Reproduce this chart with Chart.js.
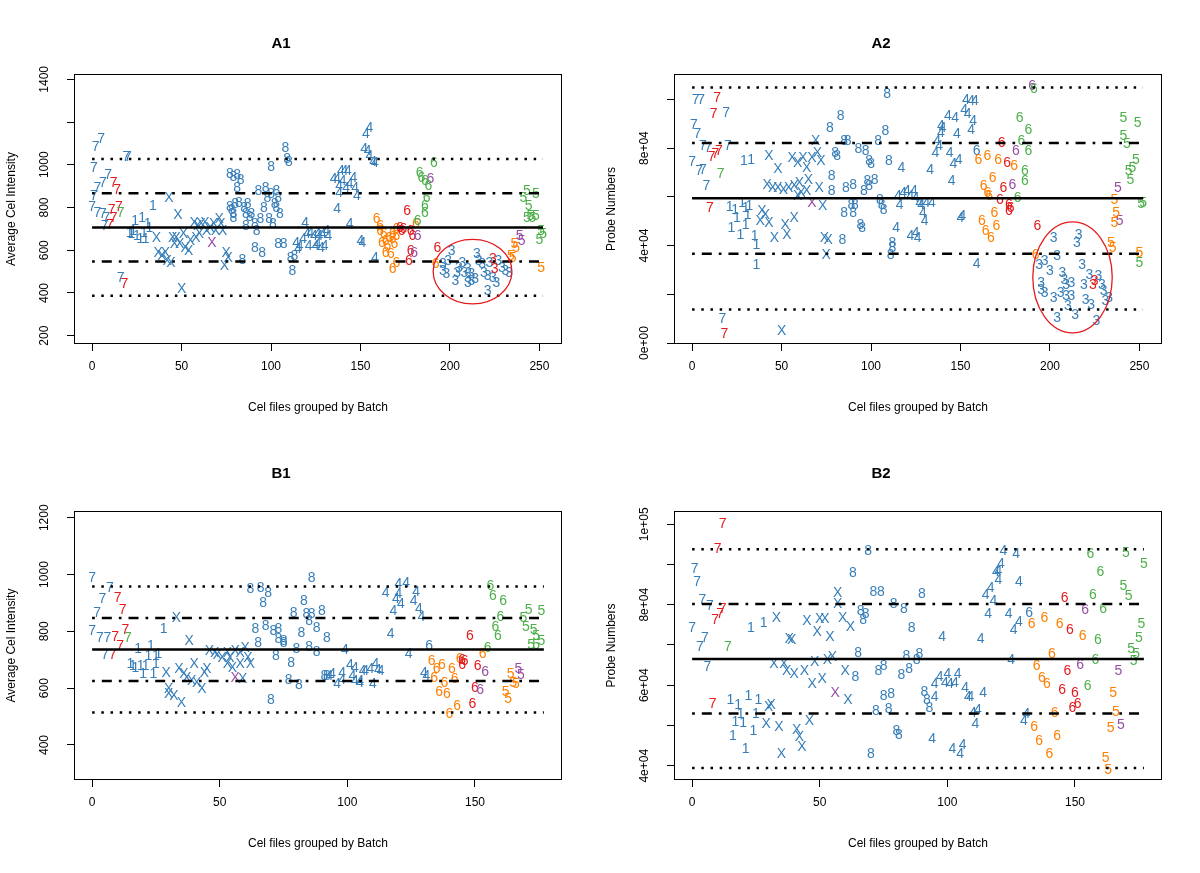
<!DOCTYPE html>
<html><head><meta charset="utf-8">
<script src="https://cdn.jsdelivr.net/npm/chart.js@4/dist/chart.umd.min.js"></script>
<style>
html,body{margin:0;padding:0;background:#fff;}
#wrap{position:relative;width:1200px;height:873px;background:#fff;}
.panel{position:absolute;}
canvas{display:block;}
</style></head><body><div id="wrap">
<div class="panel" style="left:0;top:0;width:600px;height:436px"><canvas id="cA1" width="600" height="436"></canvas></div>
<div class="panel" style="left:600px;top:0;width:600px;height:436px"><canvas id="cA2" width="600" height="436"></canvas></div>
<div class="panel" style="left:0;top:436px;width:600px;height:437px"><canvas id="cB1" width="600" height="437"></canvas></div>
<div class="panel" style="left:600px;top:436px;width:600px;height:437px"><canvas id="cB2" width="600" height="437"></canvas></div>
</div>
<script>
// ---------------- DATA ----------------
// groups: [glyph, colourKey, [[fileIndex, value], ...]]
const a1Groups = [
 ['7','b',[[2,1088],[5,1127],[1,991],[19,1041],[20,1041],[9,957],[6,921],[3,894],[1,858],[0,807],[3,780],[6,773],[8,757],[7,718],[16,473]]],
 ['7','r',[[12,921],[14,887],[11,791],[15,808],[12,757],[10,723],[18,448]]],
 ['7','g',[[16,780]]],
 ['1','b',[[21,687],[22,679],[23,694],[24,741],[25,671],[27,656],[28,757],[29,687],[30,656],[31,726],[32,710],[34,812]]],
 ['X','b',[[36,663],[37,593],[39,578],[41,593],[42,554],[43,848],[44,546],[45,663],[46,632],[48,770],[47,663],[49,632],[50,422],[51,679],[52,617],[54,601],[55,648],[57,734],[58,663],[59,718],[60,679],[61,726],[63,734],[64,695],[66,710],[68,726],[69,695],[71,749],[72,726],[73,695],[74,531],[75,593],[76,570]]],
 ['X','p',[[67,640]]],
 ['8','b',[[77,960],[79,948],[81,957],[83,932],[81,898],[77,807],[78,791],[80,822],[79,757],[82,827],[85,804],[87,820],[86,773],[89,773],[88,760],[86,718],[92,695],[91,726],[94,749],[96,804],[97,898],[93,882],[98,851],[100,867],[103,882],[104,851],[102,820],[103,804],[105,773],[99,749],[101,726],[100,992],[108,1085],[109,1030],[110,1019],[91,617],[95,593],[104,632],[107,632],[111,570],[113,578],[112,509],[84,558],[79,773]]],
 ['4','b',[[119,733],[120,679],[122,687],[124,671],[126,679],[127,671],[129,679],[131,695],[132,671],[114,640],[116,625],[118,656],[121,625],[125,625],[128,617],[130,625],[115,609],[126,632],[135,936],[137,936],[139,975],[141,975],[143,975],[140,929],[138,905],[142,898],[144,913],[146,945],[147,898],[148,859],[138,874],[137,796],[144,726],[150,648],[151,637],[158,570],[155,1178],[153,1147],[152,1077],[154,1069],[155,1045],[157,1019],[158,1014]]],
 ['6','o',[[159,751],[161,697],[163,679],[164,648],[162,640],[166,663],[168,679],[168,656],[169,632],[165,625],[164,593],[167,586],[168,515],[170,546],[161,718],[170,705],[170,670],[181,726],[192,539]]],
 ['6','r',[[172,711],[173,697],[174,703],[176,788],[178,695],[179,671],[177,554],[178,601],[193,617]]],
 ['6','p',[[182,671],[180,593],[189,936]]],
 ['6','g',[[182,742],[183,968],[184,945],[186,929],[188,905],[187,851],[186,812],[186,781],[191,1014]]],
 ['3','b',[[201,601],[199,554],[196,539],[196,508],[198,492],[203,461],[205,523],[207,546],[208,500],[210,477],[210,515],[212,492],[214,469],[210,453],[215,586],[216,554],[218,539],[219,500],[222,546],[221,485],[224,477],[227,554],[229,523],[231,508],[233,500],[226,453],[221,414],[204,500],[212,461]]],
 ['3','r',[[224,562],[225,515]]],
 ['5','o',[[236,632],[234,578],[235,570],[237,617],[251,523]]],
 ['5','p',[[239,671],[240,648]]],
 ['5','g',[[243,882],[248,867],[241,851],[244,812],[245,765],[248,765],[243,757],[246,757],[251,695],[252,679],[250,652]]]
];
const a2Groups = [
 ['7','b',[[2,100000],[5,100300],[19,94900],[1,90000],[3,86200],[6,81200],[9,80500],[20,81200],[0,74700],[4,70900],[6,71600],[8,64700],[17,10400]]],
 ['7','r',[[14,100800],[12,94200],[11,76700],[13,78000],[15,79400],[10,55900],[18,4200]]],
 ['7','g',[[16,69800]]],
 ['1','b',[[29,75300],[33,75700],[21,56100],[24,55200],[25,51700],[22,47600],[27,44900],[28,57900],[30,55900],[31,53100],[30,49000],[35,44200],[36,40800],[36,32600],[32,56500]]],
 ['X','b',[[43,77100],[48,72000],[42,65400],[45,64100],[48,64100],[51,63400],[54,64100],[57,64700],[60,66100],[65,67500],[56,76400],[59,74300],[62,76400],[64,72300],[67,76400],[69,83200],[70,78400],[72,75300],[59,60600],[61,62000],[64,62700],[71,64100],[73,56500],[39,54500],[41,53100],[38,50400],[43,49700],[52,49000],[53,44900],[57,51700],[46,43500],[74,43500],[76,42800],[75,36700],[50,5500]]],
 ['X','p',[[67,57900]]],
 ['8','b',[[77,88700],[83,93500],[78,68900],[78,62700],[80,78400],[81,77100],[85,83500],[87,83500],[93,80200],[97,79100],[99,75000],[100,73700],[104,83200],[108,87300],[109,102700],[110,75000],[86,64100],[90,65400],[96,62700],[98,66800],[99,64700],[102,67500],[85,53800],[89,57200],[91,57200],[90,53800],[94,49000],[95,47600],[105,59300],[106,57200],[107,55200],[84,42800],[112,41500],[112,39400],[111,36700]]],
 ['4','b',[[117,72300],[114,47600],[115,60600],[116,57200],[118,62000],[120,62700],[122,60600],[124,62700],[125,60000],[127,57900],[128,57200],[131,57900],[134,57900],[129,53800],[130,50400],[122,44200],[125,45600],[126,43500],[133,71600],[136,78400],[138,81200],[137,83200],[139,86600],[140,88700],[139,89500],[143,93500],[147,92800],[148,86000],[144,78400],[146,73900],[149,75700],[145,66800],[150,51700],[151,52400],[153,100300],[156,99700],[158,99700],[152,96200],[154,94200],[157,91400],[156,88000],[159,32900]]],
 ['6','b',[[159,79100]]],
 ['6','o',[[160,75700],[165,77100],[171,75700],[168,68200],[163,64700],[165,62000],[166,60600],[169,53800],[162,50400],[164,46300],[167,43500],[170,48300],[180,73000],[192,36700]]],
 ['6','r',[[173,82600],[174,64100],[172,59300],[177,57200],[178,55900],[177,54500],[176,74300],[193,48300]]],
 ['6','p',[[181,79100],[179,65400],[190,105800]]],
 ['6','g',[[183,92800],[188,88000],[184,83200],[188,79100],[186,71200],[186,66800],[182,60000],[191,104500]]],
 ['3','b',[[202,43500],[216,44900],[215,41500],[204,36000],[197,34000],[194,32600],[200,29800],[207,29200],[218,32600],[222,28500],[227,27800],[208,26400],[209,24400],[212,25100],[219,24400],[229,24400],[195,25100],[195,22300],[197,20900],[202,18900],[206,20900],[209,19600],[212,19600],[220,18200],[223,16200],[231,17500],[233,18900],[210,15500],[204,10700],[214,12000],[226,9300],[230,21600]]],
 ['3','r',[[224,24400],[225,25700]]],
 ['5','g',[[241,92800],[249,90800],[241,85300],[243,82100],[248,75700],[246,72300],[244,70900],[245,67500],[252,57900],[251,57300],[250,33300]]],
 ['5','p',[[238,64100],[239,50400]]],
 ['5','o',[[236,59300],[237,53800],[236,49700],[234,41500],[235,39400],[250,37400]]]
];
const b1Groups = [
 ['7','b',[[0,992],[7,955],[4,916],[2,869],[0,805],[3,781],[6,779],[5,720]]],
 ['7','r',[[10,920],[12,877],[9,784],[13,807],[11,752],[8,720]]],
 ['7','g',[[14,781]]],
 ['1','b',[[28,811],[18,740],[23,752],[22,717],[25,717],[26,723],[15,687],[16,682],[17,676],[19,682],[21,682],[20,652],[24,652],[25,687]]],
 ['X','b',[[33,849],[38,770],[29,658],[34,670],[36,652],[37,640],[40,687],[39,629],[41,623],[43,599],[44,658],[45,670],[30,599],[30,582],[32,576],[35,553],[46,734],[48,728],[49,720],[51,711],[53,728],[53,687],[54,711],[55,676],[56,734],[58,728],[58,687],[60,746],[61,711],[62,687],[59,635]]],
 ['X','p',[[56,638]]],
 ['8','b',[[62,951],[66,955],[69,940],[67,904],[64,811],[65,764],[68,822],[71,805],[73,811],[73,775],[75,770],[75,764],[72,717],[78,693],[80,740],[79,869],[83,910],[85,840],[84,863],[86,990],[86,863],[90,875],[82,799],[88,816],[92,779],[85,748],[88,732],[77,631],[81,615],[70,561],[91,646],[92,646]]],
 ['4','b',[[99,737],[93,646],[94,652],[96,617],[98,658],[101,685],[102,646],[103,676],[103,629],[105,629],[106,664],[107,664],[109,670],[111,687],[112,666],[113,664],[110,619],[105,623],[98,631],[115,940],[120,971],[119,916],[120,936],[118,875],[121,899],[117,795],[123,975],[127,943],[126,910],[128,881],[129,854],[124,723],[130,658],[131,646]]],
 ['6','b',[[132,752]]],
 ['6','o',[[133,699],[135,670],[137,685],[134,640],[138,623],[136,591],[139,582],[141,670],[142,635],[143,541],[140,511],[144,705],[153,723]]],
 ['6','r',[[145,702],[146,699],[148,787],[151,682],[150,603],[149,549],[145,685]]],
 ['6','p',[[154,662],[152,596]]],
 ['6','g',[[156,963],[157,928],[161,910],[160,854],[158,819],[159,787],[155,746]]],
 ['5','g',[[171,877],[176,875],[169,849],[170,819],[173,807],[174,787],[176,770],[172,755],[174,755]]],
 ['5','p',[[167,670],[168,650]]],
 ['5','o',[[164,652],[165,623],[166,619],[162,591],[163,564]]]
];
const b2Groups = [
 ['7','b',[[1,89100],[2,86000],[4,81400],[7,80000],[0,74400],[5,71900],[3,69800],[6,64800]]],
 ['7','r',[[12,100400],[10,94000],[12,79100],[11,78000],[9,76400],[8,55700]]],
 ['7','g',[[14,69800]]],
 ['1','b',[[23,74600],[28,75600],[15,56500],[18,55300],[22,57600],[26,56500],[19,53200],[17,51200],[20,50900],[25,53000],[24,48900],[16,47600],[21,44300]]],
 ['X','b',[[33,76900],[45,76200],[50,76600],[52,76600],[49,73600],[54,72200],[57,83300],[57,80400],[38,71700],[39,71400],[32,65600],[36,65600],[37,63800],[40,63100],[44,63800],[48,66100],[53,66400],[55,67300],[47,60600],[51,61700],[30,54800],[31,55300],[29,50700],[34,49900],[41,49000],[42,47400],[43,44900],[46,51400],[35,43100],[59,76900],[62,74700],[60,63800],[61,56500]]],
 ['X','p',[[56,58200]]],
 ['8','b',[[63,88200],[69,93500],[71,83500],[74,83500],[79,80500],[83,79100],[90,83000],[66,78700],[68,77900],[67,76400],[86,74600],[65,68300],[64,62300],[73,63900],[75,65000],[82,62800],[85,64400],[84,67500],[88,66400],[89,68100],[75,57600],[78,58000],[91,58600],[92,56500],[93,54500],[72,53800],[77,54300],[80,48900],[81,48000],[70,43100]]],
 ['4','b',[[98,72200],[113,71700],[94,47000],[95,57300],[95,60500],[97,62300],[99,60900],[100,63100],[101,60500],[103,60900],[104,63100],[107,59600],[108,57300],[109,57300],[114,58400],[110,53400],[112,54000],[111,50500],[102,44300],[106,45400],[105,43100],[115,82700],[117,84300],[118,81200],[116,78000],[119,88500],[120,86300],[121,90500],[122,93600],[127,92800],[120,88600],[128,86000],[124,77900],[128,76000],[126,73900],[125,66400],[131,53000],[130,51400]]],
 ['6','b',[[132,78300]]],
 ['6','o',[[133,75400],[138,77000],[144,75400],[153,72500],[141,68100],[135,65000],[137,62100],[139,60600],[142,53400],[134,49900],[143,47600],[136,46400],[140,43200]]],
 ['6','r',[[146,81900],[148,74100],[147,63800],[145,59000],[150,58200],[151,55500],[149,54500]]],
 ['6','p',[[154,78900],[152,65400]]],
 ['6','g',[[156,92800],[160,88500],[157,82700],[161,79100],[159,71400],[158,66400],[155,60000]]],
 ['5','g',[[170,93200],[177,90300],[169,84900],[171,82400],[176,75400],[175,72100],[172,69200],[174,67900],[173,66300]]],
 ['5','p',[[167,63800],[168,50400]]],
 ['5','o',[[165,58400],[166,53700],[164,49700],[162,42100],[163,39300]]]
];
// reference lines: mean +/- 1 and 2 SD
const a1Lines = [1027, 867, 707, 547, 387];
const a2Lines = [104900, 82100, 59400, 36600, 13800];
const b1Lines = [958, 847, 736, 625, 514];
const b2Lines = [93800, 80200, 66500, 53000, 39400];
const lineKinds = ['dotted','dotdash','solid','dotdash','dotted'];
// highlighted cluster: [centre x, centre y, radius x, radius y]
const a1Ellipse = [212.6, 500, 22, 151];
const a2Ellipse = [212.6, 26950, 22.2, 22750];
// ticks
const xTicksA = [0, 50, 100, 150, 200, 250];
const xTicksB = [0, 50, 100, 150];
const a1YTicks = [200, 400, 600, 800, 1000, 1200, 1400];
const a1YLabels = ['200','400','600','800','1000','','1400'];
const a2YTicks = [0, 20000, 40000, 60000, 80000, 100000];
const a2YLabels = ['0e+00','','4e+04','','8e+04',''];
const b1YTicks = [400, 600, 800, 1000, 1200];
const b1YLabels = ['400','600','800','1000','1200'];
const b2YTicks = [40000, 50000, 60000, 70000, 80000, 90000, 100000];
const b2YLabels = ['4e+04','','6e+04','','8e+04','','1e+05'];

// ---------------- STYLE ----------------
const COLORS = {b:'#377EB8', r:'#E41A1C', g:'#4DAF4A', p:'#984EA3', o:'#FF7F00'};
const FAMILY = '"Liberation Sans", Arial, Helvetica, sans-serif';
const GLYPH_PX = 14;
const DASH = {dotted:[2.5,6.7], dotdash:[2.7,7,10,7], solid:[]};

const glyphPlugin = {
  id: 'glyphs',
  beforeDatasetsDraw(chart) {
    const ds = chart.data.datasets[0];
    if (!ds.glyphs) return;
    const meta = chart.getDatasetMeta(0);
    const ctx = chart.ctx;
    ctx.save();
    ctx.font = GLYPH_PX + 'px ' + FAMILY;
    ctx.textAlign = 'center';
    ctx.textBaseline = 'alphabetic';
    meta.data.forEach((el, i) => {
      const g = ds.glyphs[i];
      ctx.fillStyle = COLORS[g[1]];
      ctx.fillText(g[0], el.x, el.y + GLYPH_PX * 0.358);
    });
    ctx.restore();
  },
  afterDatasetsDraw(chart) {
    const e = chart.data.datasets[0].ellipse;
    if (!e) return;
    const xs = chart.scales.x, ys = chart.scales.y, ctx = chart.ctx;
    const cx = xs.getPixelForValue(e[0]), cy = ys.getPixelForValue(e[1]);
    const rx = Math.abs(xs.getPixelForValue(e[0] + e[2]) - cx);
    const ry = Math.abs(ys.getPixelForValue(e[1] + e[3]) - cy);
    ctx.save();
    ctx.strokeStyle = '#E41A1C';
    ctx.lineWidth = 1.3;
    ctx.beginPath();
    ctx.ellipse(cx, cy, rx, ry, 0, 0, Math.PI * 2);
    ctx.stroke();
    ctx.restore();
  },
  afterDraw(chart) {
    const a = chart.chartArea, ctx = chart.ctx;
    ctx.save();
    ctx.strokeStyle = '#000';
    ctx.lineWidth = 1;
    ctx.strokeRect(Math.round(a.left) + 0.5, Math.round(a.top) + 0.5, Math.round(a.right - a.left) - 1, Math.round(a.bottom - a.top) - 1);
    ctx.restore();
  }
};

function measure(labels) {
  const c = document.createElement('canvas').getContext('2d');
  c.font = '12px ' + FAMILY;
  return Math.max(...labels.map(l => c.measureText(l).width));
}

function makePanel(id, p) {
  const pts = [], glyphs = [];
  p.groups.forEach(([ch, col, arr]) => arr.forEach(([x, y]) => { pts.push({x, y}); glyphs.push([ch, col]); }));
  const datasets = [{data: pts, glyphs, ellipse: p.ellipse, pointRadius: 0, pointHoverRadius: 0, showLine: false}];
  p.lines.forEach((v, i) => {
    datasets.push({data: [{x: p.span[0], y: v}, {x: p.span[1], y: v}], showLine: true, pointRadius: 0,
      borderColor: '#000', borderWidth: 2.5, borderDash: DASH[lineKinds[i]], borderCapStyle: 'butt', fill: false});
  });
  const H = p.H;
  const chartTop = p.chartTop, chartBottom = 344;
  const tickFont = {family: FAMILY, size: 12};
  const ypad = 22 - measure(p.yLabels) / 2;
  new Chart(document.getElementById(id), {
    type: 'scatter',
    data: {datasets},
    options: {
      responsive: false, animation: false, devicePixelRatio: 1, events: [],
      layout: {padding: {left: 0, right: 38, top: 0, bottom: 0}},
      plugins: {
        legend: {display: false}, tooltip: {enabled: false},
        title: {display: true, text: p.title, color: '#000',
          font: {family: FAMILY, size: 15, weight: 'bold', lineHeight: 1.2},
          padding: {top: p.titleCenter - 9, bottom: chartTop - p.titleCenter - 9}}
      },
      scales: {
        x: {type: 'linear', min: p.xr[0], max: p.xr[1],
          afterBuildTicks: s => { s.ticks = p.xTicks.map(v => ({value: v})); },
          afterFit: s => { s.height = H - chartBottom; },
          grid: {display: true, drawOnChartArea: false, drawTicks: true, tickLength: 7, tickColor: '#000', tickWidth: 1, color: '#000'},
          border: {display: false},
          ticks: {autoSkip: false, maxRotation: 0, minRotation: 0, font: tickFont, color: '#000', padding: 8.5,
            callback: (v) => String(v)},
          title: {display: true, text: 'Cel files grouped by Batch', color: '#000', font: tickFont,
            padding: {top: 0, bottom: H - 408 - 7.2}}
        },
        y: {type: 'linear', min: p.yr[0], max: p.yr[1],
          afterBuildTicks: s => { s.ticks = p.yTicks.map(v => ({value: v})); },
          afterFit: s => { s.width = 74; },
          grid: {display: true, drawOnChartArea: false, drawTicks: true, tickLength: 7, tickColor: '#000', tickWidth: 1, color: '#000'},
          border: {display: false},
          ticks: {autoSkip: false, minRotation: 90, maxRotation: 90, crossAlign: 'center', font: tickFont, color: '#000', padding: ypad,
            callback: (v, i) => p.yLabels[i]},
          title: {display: true, text: p.yTitle, color: '#000', font: tickFont, padding: {top: 4.8, bottom: 0}}
        }
      }
    },
    plugins: [glyphPlugin]
  });
}

makePanel('cA1', {title: 'A1', yTitle: 'Average Cel Intensity', groups: a1Groups, lines: a1Lines, span: [0, 252],
  ellipse: a1Ellipse, xr: [-10.1, 262.6], yr: [161.2, 1424.8], xTicks: xTicksA, yTicks: a1YTicks, yLabels: a1YLabels,
  H: 436, chartTop: 74, titleCenter: 44});
makePanel('cA2', {title: 'A2', yTitle: 'Probe Numbers', groups: a2Groups, lines: a2Lines, span: [0, 252],
  ellipse: a2Ellipse, xr: [-10.1, 262.6], yr: [-400, 110400], xTicks: xTicksA, yTicks: a2YTicks, yLabels: a2YLabels,
  H: 436, chartTop: 74, titleCenter: 44});
makePanel('cB1', {title: 'B1', yTitle: 'Average Cel Intensity', groups: b1Groups, lines: b1Lines, span: [0, 177],
  ellipse: null, xr: [-7.1, 184.1], yr: [276.8, 1223.6], xTicks: xTicksB, yTicks: b1YTicks, yLabels: b1YLabels,
  H: 437, chartTop: 75, titleCenter: 38});
makePanel('cB2', {title: 'B2', yTitle: 'Probe Numbers', groups: b2Groups, lines: b2Lines, span: [0, 177],
  ellipse: null, xr: [-7.1, 184.1], yr: [36445, 103306], xTicks: xTicksB, yTicks: b2YTicks, yLabels: b2YLabels,
  H: 437, chartTop: 75, titleCenter: 38});
</script>
</body></html>
